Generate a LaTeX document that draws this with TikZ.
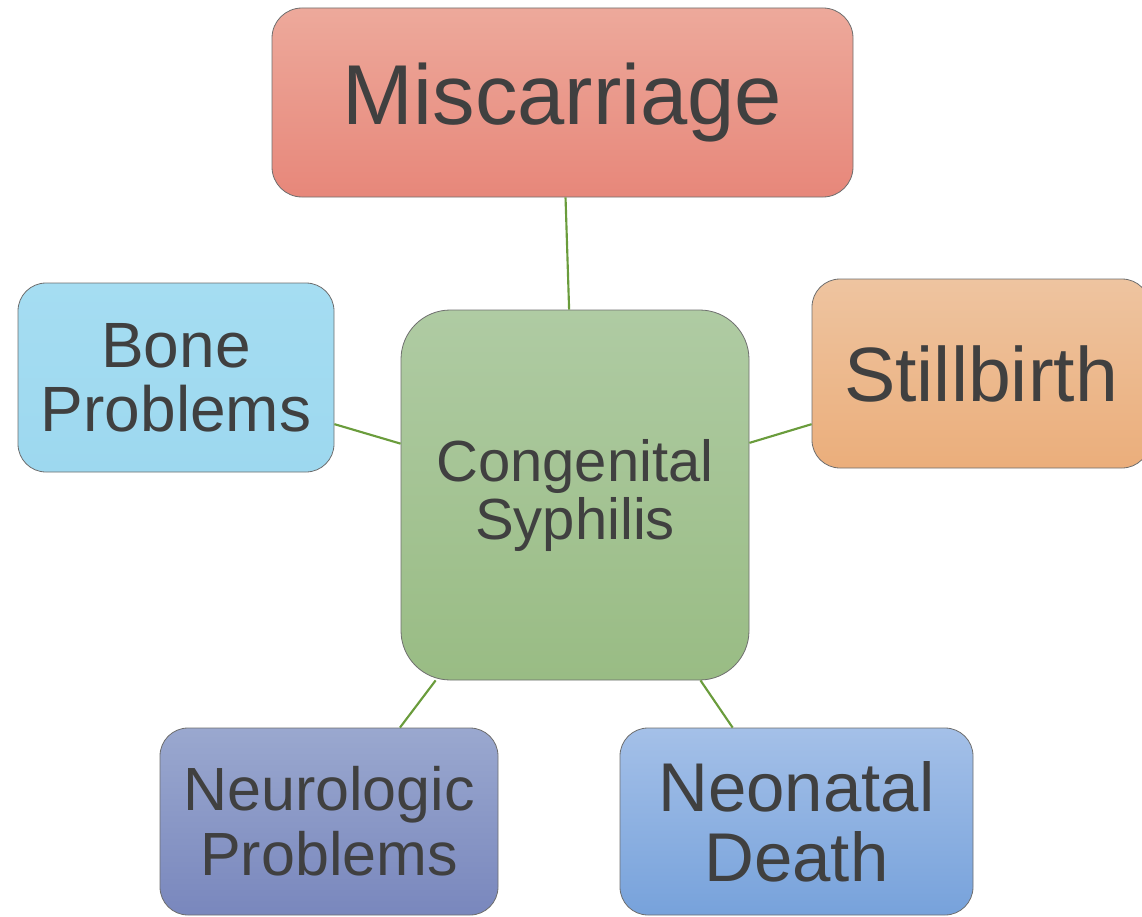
\documentclass[tikz,border=0pt]{standalone}
\usepackage{fontspec}
\setmainfont{Liberation Sans}
\usepackage{tikz}
\usetikzlibrary{positioning, calc}
\definecolor{csText}{HTML}{404040}
\definecolor{csEdge}{HTML}{6E6E6E}
\definecolor{csLink}{HTML}{6A9C3C}
\definecolor{misTop}{HTML}{EDA99B}
\definecolor{misBot}{HTML}{E7877A}
\definecolor{stillTop}{HTML}{EEC4A0}
\definecolor{stillBot}{HTML}{EBAE7B}
\definecolor{boneTop}{HTML}{A5DDF2}
\definecolor{boneBot}{HTML}{9DD8EF}
\definecolor{synTop}{HTML}{AFCBA3}
\definecolor{synBot}{HTML}{99BC84}
\definecolor{neuroTop}{HTML}{9AA8CF}
\definecolor{neuroBot}{HTML}{7987BD}
\definecolor{neoTop}{HTML}{A4C0E8}
\definecolor{neoBot}{HTML}{77A2DB}
\tikzset{
  csnode/.style={
    draw=csEdge, line width=0.6pt, rounded corners=21pt, inner sep=0pt,
    align=center, text=csText
  },
  hub/.style={csnode, top color=synTop, bottom color=synBot, rounded corners=37pt,
    minimum width=261pt, minimum height=277.5pt, font=\fontsize{43.5}{43.5}\selectfont},
  outcome/.style={csnode, minimum height=141.75pt},
  link/.style={csLink, line width=1.6pt}
}
\begin{document}
\begin{tikzpicture}[x=0.75pt, y=-0.75pt]
  \useasboundingbox (0,0) rectangle (1142,917);
  \node[hub] (syph) at (575,495) {Congenital\\Syphilis};
  \node[outcome, top color=misTop, bottom color=misBot, rounded corners=22.5pt,
        minimum width=435.75pt, font=\fontsize{63.75}{63.75}\selectfont] (mis) at (562.5,102.5) {Miscarriage};
  \node[outcome, top color=stillTop, bottom color=stillBot,
        minimum width=253.5pt, font=\fontsize{57.75}{57.75}\selectfont] (still) at (981,373.5) {Stillbirth};
  \node[outcome, top color=boneTop, bottom color=boneBot,
        minimum width=237pt, font=\fontsize{48}{48}\selectfont] (bone) at (176,377.5) {Bone\\Problems};
  \node[outcome, top color=neuroTop, bottom color=neuroBot, minimum height=140.25pt,
        minimum width=253.5pt, font=\fontsize{45.75}{48.75}\selectfont] (neuro) at (329,821.5) {Neurologic\\Problems};
  \node[outcome, top color=neoTop, bottom color=neoBot, minimum height=140.25pt,
        minimum width=264.75pt, font=\fontsize{51.75}{52.5}\selectfont] (neo) at (796.5,821.5) {Neonatal\\Death};
  \foreach \n in {mis, still, bone, neuro, neo}{\draw[link] (\n) -- (syph);}
\end{tikzpicture}
\end{document}
